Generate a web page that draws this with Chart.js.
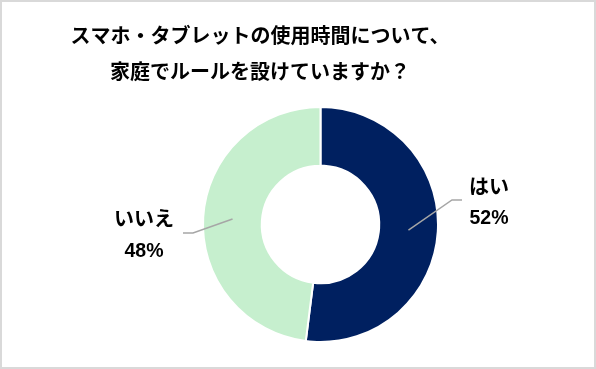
<!DOCTYPE html>
<html><head><meta charset="utf-8">
<script src="https://cdn.jsdelivr.net/npm/chart.js@4"></script>
<style>
html,body{margin:0;padding:0;background:#fff;}
#wrap{position:relative;width:596px;height:369px;}
#frame{position:absolute;left:0;top:0;width:596px;height:369px;box-sizing:border-box;border:2px solid #d9d9d9;pointer-events:none;}
canvas{display:block;}
</style></head><body>
<div id="wrap"><canvas id="c" width="596" height="369"></canvas><div id="frame"></div></div>
<script>
const titleLines = ['スマホ・タブレットの使用時間について、', '家庭でルールを設けていますか？'];
const categories = ['はい', 'いいえ'];
const values = [52, 48];
const percentLabels = ['52%', '48%'];
const colors = ['#002060', '#C6EFCE'];

const FONT = '"Liberation Sans", "Noto Sans CJK JP", sans-serif';

const titlePlugin = {
  id: 'customTitle',
  afterDraw(chart, args, opts) {
    const ctx = chart.ctx;
    ctx.save();
    ctx.fillStyle = '#000';
    ctx.font = 'bold 20px ' + FONT;
    ctx.textAlign = 'center';
    ctx.textBaseline = 'middle';
    opts.lines.forEach((t, i) => ctx.fillText(t, opts.x, opts.y + i * opts.lineHeight));
    ctx.restore();
  }
};

const labelPlugin = {
  id: 'sliceLabels',
  afterDatasetsDraw(chart, args, opts) {
    const ctx = chart.ctx;
    const meta = chart.getDatasetMeta(0);
    meta.data.forEach((arc, i) => {
      const p = arc.getProps(['x', 'y', 'startAngle', 'endAngle', 'innerRadius', 'outerRadius'], true);
      const mid = (p.startAngle + p.endAngle) / 2;
      const r = (p.innerRadius + p.outerRadius) / 2;
      const sx = p.x + Math.cos(mid) * r, sy = p.y + Math.sin(mid) * r;
      const L = opts.place[i];
      ctx.save();
      ctx.strokeStyle = '#a6a6a6';
      ctx.lineWidth = 1.5;
      ctx.beginPath();
      ctx.moveTo(sx, sy);
      ctx.lineTo(p.x + L.elbow[0], p.y + L.elbow[1]);
      ctx.lineTo(p.x + L.end[0], p.y + L.end[1]);
      ctx.stroke();
      ctx.fillStyle = '#000';
      ctx.textAlign = 'center';
      ctx.textBaseline = 'middle';
      ctx.font = 'bold 20px ' + FONT;
      ctx.fillText(categories[i], p.x + L.text[0], p.y + L.text[1]);
      ctx.font = 'bold 19.5px ' + FONT;
      ctx.fillText(percentLabels[i], p.x + L.text[0], p.y + L.text[2]);
      ctx.restore();
    });
  }
};

new Chart(document.getElementById('c'), {
  type: 'doughnut',
  data: {
    labels: categories,
    datasets: [{
      data: values,
      backgroundColor: colors,
      borderColor: '#ffffff',
      borderWidth: 2,
      hoverOffset: 0
    }]
  },
  options: {
    responsive: false,
    animation: false,
    cutout: '50%',
    layout: { padding: { left: 202, right: 157, top: 106, bottom: 26 } },
    plugins: {
      legend: { display: false },
      tooltip: { enabled: false },
      title: { display: false },
      customTitle: { lines: titleLines, x: 260, y: 37, lineHeight: 36 },
      sliceLabels: {
        place: [
          { elbow: [131.5, -24.5], end: [141.5, -24.5], text: [168.5, -36.5, -5.5] },
          { elbow: [-127.5, 8.5], end: [-137.5, 8.5], text: [-176.5, -4.5, 27] }
        ]
      }
    }
  },
  plugins: [titlePlugin, labelPlugin]
});
</script>
</body></html>
